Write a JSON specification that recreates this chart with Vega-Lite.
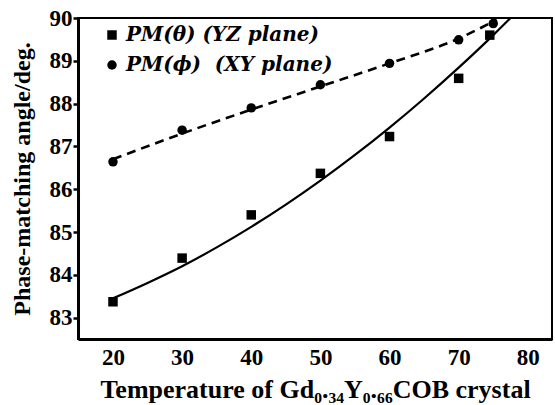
{
  "$schema": "https://vega.github.io/schema/vega-lite/v6.json",
  "width": 474,
  "height": 321,
  "autosize": {"type": "none"},
  "padding": {"left": 78, "top": 18, "right": 3, "bottom": 66},
  "background": "white",
  "config": {
    "view": {"stroke": "black", "strokeWidth": 2},
    "font": "Liberation Serif"
  },
  "datasets": {
    "pts": [
      {"T": 20, "angle": 83.37, "series": "PM(θ) (YZ plane)"},
      {"T": 30, "angle": 84.39, "series": "PM(θ) (YZ plane)"},
      {"T": 40, "angle": 85.4, "series": "PM(θ) (YZ plane)"},
      {"T": 50, "angle": 86.37, "series": "PM(θ) (YZ plane)"},
      {"T": 60, "angle": 87.23, "series": "PM(θ) (YZ plane)"},
      {"T": 70, "angle": 88.59, "series": "PM(θ) (YZ plane)"},
      {"T": 74.5, "angle": 89.6, "series": "PM(θ) (YZ plane)"},
      {"T": 20, "angle": 86.64, "series": "PM(ϕ)\u00a0\u00a0(XY plane)"},
      {"T": 30, "angle": 87.38, "series": "PM(ϕ)\u00a0\u00a0(XY plane)"},
      {"T": 40, "angle": 87.9, "series": "PM(ϕ)\u00a0\u00a0(XY plane)"},
      {"T": 50, "angle": 88.44, "series": "PM(ϕ)\u00a0\u00a0(XY plane)"},
      {"T": 60, "angle": 88.94, "series": "PM(ϕ)\u00a0\u00a0(XY plane)"},
      {"T": 70, "angle": 89.49, "series": "PM(ϕ)\u00a0\u00a0(XY plane)"},
      {"T": 75, "angle": 89.87, "series": "PM(ϕ)\u00a0\u00a0(XY plane)"}
    ],
    "fitSolid": [
      {"T": 20, "angle": 83.45},
      {"T": 25, "angle": 83.81},
      {"T": 30, "angle": 84.2},
      {"T": 35, "angle": 84.64},
      {"T": 40, "angle": 85.12},
      {"T": 45, "angle": 85.64},
      {"T": 50, "angle": 86.2},
      {"T": 55, "angle": 86.8},
      {"T": 60, "angle": 87.44},
      {"T": 65, "angle": 88.12},
      {"T": 70, "angle": 88.84},
      {"T": 75, "angle": 89.6},
      {"T": 77.5, "angle": 90.0}
    ],
    "fitDashed": [
      {"T": 20, "angle": 86.7},
      {"T": 30, "angle": 87.3},
      {"T": 40, "angle": 87.86},
      {"T": 50, "angle": 88.4},
      {"T": 60, "angle": 88.94},
      {"T": 70, "angle": 89.52},
      {"T": 75.5, "angle": 89.96}
    ],
    "xticks": [
      {"T": 20}, {"T": 30}, {"T": 40}, {"T": 50}, {"T": 60}, {"T": 70}, {"T": 80}
    ]
  },
  "encoding": {
    "x": {
      "field": "T", "type": "quantitative",
      "scale": {"domain": [14.94, 83.5], "nice": false, "zero": false},
      "axis": {
        "values": [20, 30, 40, 50, 60, 70, 80],
        "title": "Temperature of Gd₀.₃₄Y₀.₆₆COB crystal",
        "grid": false,
        "domainColor": "black", "domainWidth": 3,
        "ticks": false,
        "labelPadding": 7,
        "labelFont": "Liberation Serif", "labelFontSize": 23, "labelFontWeight": "bold", "labelColor": "black",
        "titleFont": "Liberation Serif", "titleFontSize": 26, "titleFontWeight": "bold", "titleColor": "black",
        "titlePadding": 7
      }
    },
    "y": {
      "field": "angle", "type": "quantitative",
      "scale": {"domain": [82.5, 90], "nice": false, "zero": false},
      "axis": {
        "values": [83, 84, 85, 86, 87, 88, 89, 90],
        "title": "Phase-matching angle/deg.",
        "grid": false,
        "domainColor": "black", "domainWidth": 3,
        "tickColor": "black", "tickWidth": 2.5, "tickSize": 5,
        "labelPadding": 1,
        "labelFont": "Liberation Serif", "labelFontSize": 23, "labelFontWeight": "bold", "labelColor": "black",
        "titleFont": "Liberation Serif", "titleFontSize": 24, "titleFontWeight": "bold", "titleColor": "black",
        "titlePadding": 15
      }
    }
  },
  "layer": [
    {
      "data": {"name": "xticks"},
      "mark": {"type": "rule", "color": "black", "strokeWidth": 2.5},
      "encoding": {
        "y": {"datum": 82.5},
        "y2": {"datum": 82.65}
      }
    },
    {
      "data": {"name": "fitSolid"},
      "mark": {"type": "line", "interpolate": "monotone", "clip": true, "strokeWidth": 2.2, "color": "black"},
      "encoding": {}
    },
    {
      "data": {"name": "fitDashed"},
      "mark": {"type": "line", "interpolate": "monotone", "clip": true, "strokeWidth": 2.6, "color": "black", "strokeDash": [9, 6]},
      "encoding": {}
    },
    {
      "data": {"name": "pts"},
      "mark": {"type": "point", "filled": true, "opacity": 1, "color": "black", "clip": true, "size": 90},
      "encoding": {
        "shape": {
          "field": "series", "type": "nominal",
          "scale": {"domain": ["PM(θ) (YZ plane)", "PM(ϕ)\u00a0\u00a0(XY plane)"], "range": ["square", "circle"]},
          "legend": {
            "title": null,
            "orient": "none",
            "legendX": 24,
            "legendY": 7,
            "labelFont": "DejaVu Serif",
            "labelFontSize": 20,
            "labelFontWeight": "bold",
            "labelFontStyle": "italic",
            "labelColor": "black",
            "labelLimit": 400,
            "symbolFillColor": "black",
            "symbolStrokeColor": "black",
            "symbolSize": 90,
            "rowPadding": 10,
            "labelOffset": 4
          }
        }
      }
    }
  ]
}
